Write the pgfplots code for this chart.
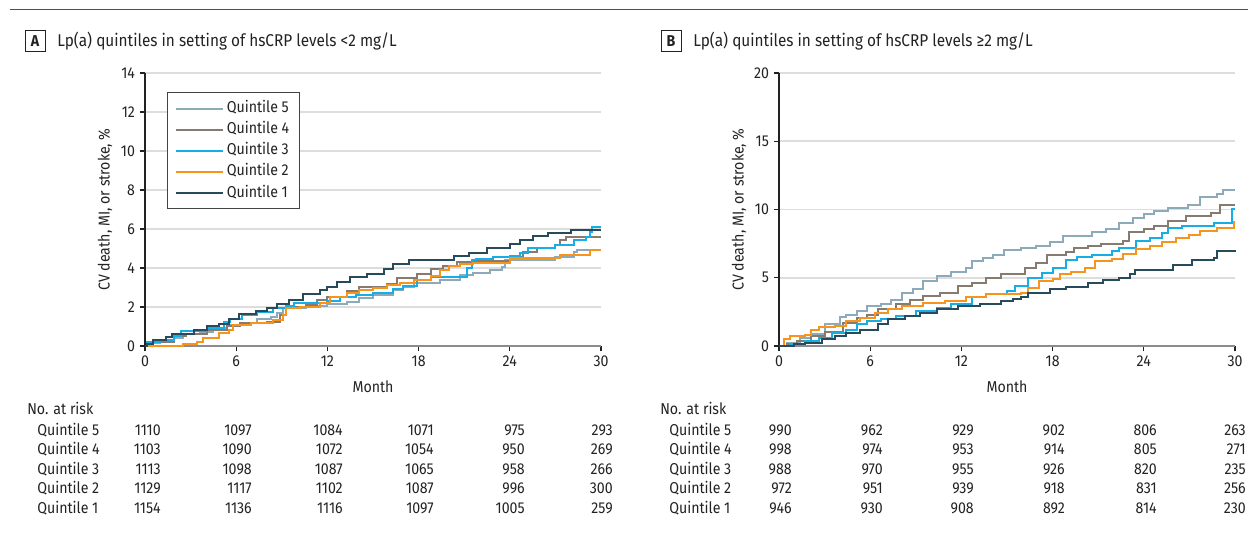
\documentclass[border=0pt]{standalone}
\usepackage{pgfplots}
\pgfplotsset{compat=1.18}
\usepackage{fontspec}
\setmainfont{Fira Sans}[FakeStretch=0.9]
\definecolor{qfive}{HTML}{8CAAB9}
\definecolor{qfour}{HTML}{877B6F}
\definecolor{qthree}{HTML}{17AEE6}
\definecolor{qtwo}{HTML}{F7941E}
\definecolor{qone}{HTML}{274B5C}
\definecolor{gridgray}{HTML}{DDDDDD}
\definecolor{axisgray}{HTML}{8C8C8C}
\definecolor{txt}{HTML}{222222}
\newcommand{\fs}{\fontsize{11.8}{14}\selectfont}
\newcommand{\ft}{\fontsize{12.8}{15}\selectfont}
\pgfplotsset{
  kmstyle/.style={
    scale only axis, width=342pt, height=204.75pt,
    xmin=0, xmax=30, ymin=0,
    xtick={0,6,...,30},
    axis x line*=bottom, axis y line*=left,
    axis line style={-},
    x axis line style={draw=axisgray, line width=1.5pt, -},
    y axis line style={draw=txt, line width=0.8pt, -},
    tick style={draw=txt, line width=0.8pt},
    major tick length=4pt,
    tick align=outside,
    ymajorgrids, major grid style={draw=gridgray, line width=1.2pt},
    tick label style={font=\fs, text=txt},
    /pgf/number format/assume math mode=true,
    xlabel={Month},
    xlabel style={font=\fs, text=txt, at={(axis description cs:0.5,-0.150)}, anchor=center},
    ylabel={CV death, MI, or stroke, \%},
    ylabel style={font=\fs, text=txt, at={(axis description cs:-0.0877,0.5)}, anchor=center},
    every axis plot/.append style={const plot, line width=1.5pt, no marks},
    clip=false,
  }
}
\begin{document}
\begin{tikzpicture}
\path[use as bounding box] (0,0) rectangle (936pt,401.25pt);

% ---------------- Panel A ----------------
\begin{axis}[kmstyle, at={(108.75pt,141.75pt)}, anchor=south west,
  ymax=14, ytick={0,2,...,14},
  legend style={at={(rel axis cs:0.048,0.930)}, anchor=north west,
    draw=txt!85, line width=0.8pt, font=\fs, text=txt,
    inner xsep=6pt, inner ysep=6.5pt, row sep=4.8pt,
    nodes={inner xsep=2pt, inner ysep=0pt, text height=8.6pt, text depth=2.4pt},
    cells={anchor=west}},
  legend image code/.code={\draw[#1, line width=1.5pt] (0pt,0pt) -- (35pt,0pt);},
]
\addplot[qfive] coordinates {(0,0) (0.3,0.17) (1,0.3) (1.9,0.4) (2.5,0.6) (3.6,0.73) (4.5,0.9) (5.4,1.08) (6.25,1.16) (7.35,1.4) (8.3,1.5) (8.7,1.7) (9.1,1.93) (10.6,2.05) (12,2.13) (13.3,2.27) (14.1,2.45) (15,2.6) (16.3,2.87) (17,3.04) (17.7,3.25) (19.4,3.4) (20.7,3.65) (21.6,3.75) (22.7,3.9) (23.5,4.05) (23.7,4.4) (27,4.55) (28.2,4.8) (28.4,4.9) (30,4.9)};
\addlegendentry{Quintile 5}
\addplot[qfour] coordinates {(0,0) (0.5,0.2) (1.9,0.5) (2.7,0.6) (4.1,0.8) (5.4,1.05) (6.25,1.2) (8,1.25) (8.9,1.6) (9.3,2.0) (10.6,2.1) (11.3,2.35) (12,2.5) (13.3,2.8) (14.1,3.0) (15.9,3.2) (16.6,3.5) (17.9,3.7) (18.8,3.95) (19.6,4.1) (20.5,4.3) (21.6,4.35) (24,4.55) (24.9,4.8) (25.8,5.0) (27,5.2) (27.3,5.45) (27.7,5.57) (30,5.57)};
\addlegendentry{Quintile 4}
\addplot[qthree] coordinates {(0,0) (0.1,0.2) (1.0,0.3) (1.9,0.5) (2.4,0.75) (4.1,0.9) (5.2,1.25) (5.6,1.4) (6.4,1.6) (7.35,1.75) (8.4,1.95) (9.3,2.05) (9.8,2.2) (12,2.3) (12.8,2.5) (13.9,2.6) (15,2.7) (16.3,2.9) (17,3.1) (17.9,3.4) (18.8,3.56) (21.2,4.0) (21.5,4.4) (21.8,4.45) (22.9,4.55) (24,4.6) (24.7,4.75) (25.2,5.05) (27,5.2) (28.2,5.45) (29,5.6) (29.3,5.85) (29.4,6.1) (30,6.1)};
\addlegendentry{Quintile 3}
\addplot[qtwo] coordinates {(0,0) (2.5,0.1) (3.4,0.22) (3.8,0.4) (4.9,0.65) (5.5,0.82) (5.8,1.08) (7,1.2) (8.4,1.33) (9.1,1.6) (9.3,1.93) (10.2,2.0) (11.5,2.2) (12.2,2.53) (13.3,2.7) (14.1,2.87) (15,2.95) (15.9,3.13) (16.8,3.25) (17.7,3.38) (18.8,3.6) (19.4,3.9) (20,4.1) (20.7,4.2) (21.6,4.27) (24,4.5) (27.3,4.67) (29.3,4.92) (30,4.92)};
\addlegendentry{Quintile 2}
\addplot[qone] coordinates {(0,0) (0.1,0.1) (0.5,0.3) (1.4,0.45) (1.75,0.62) (3.2,0.8) (4.1,1.0) (4.9,1.15) (5.5,1.4) (6.2,1.62) (7.3,1.8) (8,1.95) (8.7,2.15) (9.5,2.38) (10.4,2.65) (11.5,2.88) (12,3.05) (12.6,3.3) (13.5,3.55) (14.6,3.7) (15.7,3.95) (16.3,4.2) (17.4,4.4) (20.3,4.6) (21.3,4.78) (22.5,5.0) (24,5.25) (24.7,5.45) (25.5,5.62) (26.5,5.78) (28,5.97) (30,5.97)};
\addlegendentry{Quintile 1}
\end{axis}

% ---------------- Panel B ----------------
\begin{axis}[kmstyle, at={(584.25pt,141.75pt)}, anchor=south west,
  ymax=20, ytick={0,5,...,20}]
\addplot[qfive] coordinates {(0,0) (0.5,0.25) (1.4,0.55) (2.1,0.85) (3.0,1.6) (4.0,2.1) (4.4,2.3) (5.1,2.6) (5.8,2.9) (6.7,3.05) (7.4,3.4) (8.1,3.9) (8.8,4.15) (9.5,4.75) (10.4,5.1) (11.3,5.4) (12.3,5.75) (12.7,6.2) (13.4,6.45) (14.1,6.7) (14.8,7.0) (15.9,7.2) (16.9,7.35) (17.8,7.6) (18.7,8.05) (20.6,8.35) (21.5,8.55) (22.4,9.0) (23.3,9.4) (24,9.65) (24.7,9.9) (25.6,10.1) (26.9,10.35) (27.7,10.9) (28.8,11.1) (29.2,11.4) (30,11.4)};
\addplot[qfour] coordinates {(0,0) (0.5,0.12) (1.2,0.37) (2.1,0.7) (3.0,1.0) (4.2,1.7) (5.1,2.05) (5.8,2.3) (6.5,2.7) (7.7,3.05) (8.6,3.35) (9.5,3.65) (10.6,3.9) (11.8,4.4) (12.7,4.6) (13.6,5.0) (14.6,5.3) (16.2,5.7) (16.9,6.1) (17.6,6.7) (18.9,6.9) (19.4,7.15) (20.3,7.3) (21.2,7.5) (22.6,7.7) (23,8.35) (24,8.55) (24.7,8.8) (25.6,9.15) (26.8,9.5) (28.4,9.75) (29,10.3) (30,10.3)};
\addplot[qthree] coordinates {(0,0) (0.7,0.12) (1.7,0.37) (2.6,0.6) (3.5,0.97) (4.4,1.2) (5.1,1.6) (5.8,1.8) (6.7,1.95) (7.7,2.2) (9.0,2.55) (10.4,2.8) (11.3,3.05) (12.7,3.6) (13.6,3.8) (15,4.0) (15.5,4.4) (16.4,5.0) (17.3,5.35) (18,5.7) (18.9,6.3) (19.6,6.5) (20.6,6.7) (21.9,6.95) (22.4,7.2) (23.5,7.7) (24.4,7.9) (25.2,8.3) (25.6,8.65) (26.5,8.8) (28.6,9.0) (29.8,10.0) (30,10.0)};
\addplot[qtwo] coordinates {(0,0) (0.3,0.5) (0.7,0.7) (1.7,0.8) (2.1,1.2) (2.6,1.4) (3.7,1.45) (4.4,1.8) (5.3,2.05) (6.3,2.4) (7.2,2.7) (8.1,2.9) (9.5,3.15) (10.9,3.3) (12.3,3.6) (13.6,3.8) (15.9,3.9) (16.4,4.25) (17.1,4.75) (18.0,4.9) (18.5,5.25) (19.2,5.4) (20.1,5.75) (20.8,6.2) (21.9,6.4) (22.6,6.75) (23.5,7.1) (24.4,7.3) (25.2,7.6) (26.1,7.9) (27,8.15) (27.7,8.4) (28.8,8.65) (29.9,9.1) (30,9.1)};
\addplot[qone] coordinates {(0,0) (1.0,0.12) (1.7,0.2) (2.8,0.5) (3.7,0.73) (4.4,0.97) (5.3,1.2) (6.5,1.6) (7.2,1.95) (8.3,2.2) (9.3,2.45) (10.4,2.7) (11.8,2.9) (13.2,3.05) (14.6,3.3) (15.4,3.43) (15.9,3.6) (16.4,3.9) (17.8,4.15) (18.9,4.35) (20.3,4.6) (21.3,4.87) (22.4,5.0) (23.1,5.3) (23.4,5.6) (25.9,5.95) (27.2,6.3) (28.6,6.45) (28.8,6.95) (30,7.0)};
\end{axis}

% ---------------- Text in pixel coordinates ----------------
\begin{scope}[x=0.75pt,y=-0.75pt,yshift=401.25pt, every node/.style={font=\fs, text=txt, inner sep=0pt}]
\draw[line width=1.1pt, txt!80] (10,9.5) -- (1248,9.5);
% panel titles
\draw[line width=0.75pt, txt] (25,30.5) rectangle (45,51.5);
\node at (35,41) {\bfseries A};
\node[anchor=base west, font=\ft] at (57,46.5) {Lp(a) quintiles in setting of hsCRP levels <2 mg/L};
\draw[line width=0.75pt, txt] (661,30.5) rectangle (681,51.5);
\node at (671,41) {\bfseries B};
\node[anchor=base west, font=\ft] at (693,46.5) {Lp(a) quintiles in setting of hsCRP levels ≥2 mg/L};
% risk table A
\node[anchor=base west] at (27,415) {No. at risk};
\foreach \lab/\yy in {Quintile 5/435.5, Quintile 4/455, Quintile 3/474.5, Quintile 2/494, Quintile 1/513.5}
  \node[anchor=base west] at (37,\yy) {\lab};
\foreach \yy/\a/\b/\c/\d/\e/\f in {435.5/1110/1097/1084/1071/975/293, 455/1103/1090/1072/1054/950/269, 474.5/1113/1098/1087/1065/958/266, 494/1129/1117/1102/1087/996/300, 513.5/1154/1136/1116/1097/1005/259}{
  \node[anchor=base east] at (161,\yy) {\a};
  \node[anchor=base east] at (252,\yy) {\b};
  \node[anchor=base east] at (343,\yy) {\c};
  \node[anchor=base east] at (434,\yy) {\d};
  \node[anchor=base east] at (525,\yy) {\e};
  \node[anchor=base east] at (613,\yy) {\f};
}
% risk table B
\node[anchor=base west] at (660,415) {No. at risk};
\foreach \lab/\yy in {Quintile 5/435.5, Quintile 4/455, Quintile 3/474.5, Quintile 2/494, Quintile 1/513.5}
  \node[anchor=base west] at (669,\yy) {\lab};
\foreach \yy/\a/\b/\c/\d/\e/\f in {435.5/990/962/929/902/806/263, 455/998/974/953/914/805/271, 474.5/988/970/955/926/820/235, 494/972/951/939/918/831/256, 513.5/946/930/908/892/814/230}{
  \node[anchor=base east] at (792,\yy) {\a};
  \node[anchor=base east] at (883,\yy) {\b};
  \node[anchor=base east] at (974,\yy) {\c};
  \node[anchor=base east] at (1065,\yy) {\d};
  \node[anchor=base east] at (1157,\yy) {\e};
  \node[anchor=base east] at (1246,\yy) {\f};
}
\end{scope}
\end{tikzpicture}
\end{document}
